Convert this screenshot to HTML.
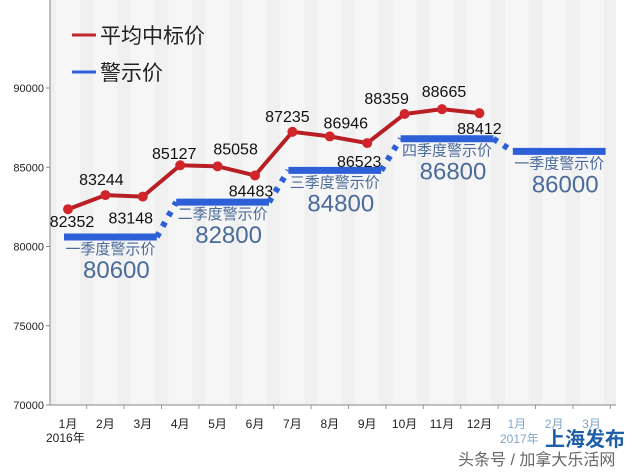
<!DOCTYPE html>
<html><head><meta charset="utf-8"><style>
body{margin:0;background:#fff;}
svg{display:block;font-family:"Liberation Sans","Noto Sans CJK SC",sans-serif;}
</style></head><body>
<svg id="c" width="640" height="472" viewBox="0 0 640 472">
<rect x="0" y="0" width="640" height="472" fill="#fff"/>
<rect x="50" y="0" width="566" height="405" fill="#f0f0f0"/>
<g id="stripes"></g>
<g id="axes"></g>
<g id="series"></g>
<g>
<line x1="72" y1="35" x2="96" y2="35" stroke="#c0272d" stroke-width="3"/>
<text x="100" y="43" font-size="21" fill="#222">平均中标价</text>
<line x1="72" y1="72" x2="96" y2="72" stroke="#2d5fd6" stroke-width="3"/>
<text x="100" y="80" font-size="21" fill="#222">警示价</text>
</g>
<text x="46" y="442" font-size="12" fill="#222">2016年</text>
<text x="500" y="443" font-size="12" fill="#7fa6c8">2017年</text>
<text x="545" y="446" font-size="20" font-weight="bold" fill="#1f5fa8">上海发布</text>
<text x="458" y="465" font-size="16" fill="#666">头条号 / 加拿大乐活网</text>
</svg>
<script>
const months=["1月","2月","3月","4月","5月","6月","7月","8月","9月","10月","11月","12月","1月","2月","3月"];
const avgPrices=[82352,83244,83148,85127,85058,84483,87235,86946,86523,88359,88665,88412];
const warnValues=[80600,82800,84800,86800,86000];
const warnLabels=["一季度警示价","二季度警示价","三季度警示价","四季度警示价","一季度警示价"];
const yTicks=[70000,75000,80000,85000,90000];
const labelDx=[4,-4,-12,-6,18,-4,-5,16,-8,-18,2,0];
const labelDy=[18,-10,27,-6,-12,21,-10,-8,24,-10,-12,21];
const NS="http://www.w3.org/2000/svg";
const X=i=>68+i*37.4;
const Y=v=>405-(v-70000)*0.01585;
function mk(p,t,a,txt){const e=document.createElementNS(NS,t);for(const k in a)e.setAttribute(k,a[k]);if(txt!==undefined)e.textContent=txt;p.appendChild(e);return e;}
const st=document.getElementById('stripes'),ax=document.getElementById('axes'),se=document.getElementById('series');
months.forEach((m,i)=>{
 const r=mk(st,'rect',{x:X(i)-12,y:0,width:24,height:405,fill:'#f6f6f6'});
 
 
 const t=mk(ax,'text',{x:X(i),y:428,'font-size':12,'text-anchor':'middle',fill:i>=12?'#7fa6c8':'#222'},m);
 
 
 const tk=mk(ax,'line',{x1:X(i)+18.7,y1:405,x2:X(i)+18.7,y2:409,stroke:'#999'});
 
 
});
const yl=mk(ax,'line',{x1:50,y1:0,x2:50,y2:405,stroke:'#888'});


const xl=mk(ax,'line',{x1:50,y1:405,x2:616,y2:405,stroke:'#888'});


yTicks.forEach(v=>{
 const t=mk(ax,'text',{x:44,y:Y(v)+4,'font-size':11,'text-anchor':'end',fill:'#222'},v);
 
 
 const l=mk(ax,'line',{x1:46,y1:Y(v),x2:50,y2:Y(v),stroke:'#888'});
 
 
});
warnValues.forEach((v,q)=>{
 const x1=X(q*3)-4,x2=X(q*3+2)+14;
 const s=mk(se,'line',{x1:x1,y1:Y(v),x2:x2,y2:Y(v),stroke:'#2d5fd6','stroke-width':7});
 
 
 if(q<warnValues.length-1){
  const d=mk(se,'line',{x1:x2,y1:Y(v),x2:X(q*3+3)-4,y2:Y(warnValues[q+1]),stroke:'#2d5fd6','stroke-width':6,'stroke-dasharray':'5 7'});
  
  
 }
 const cx=(x1+x2)/2;
 const lt=mk(se,'text',{x:cx,y:Y(v)+17,'font-size':15,'text-anchor':'middle',fill:'#4b6b9a'},warnLabels[q]);
 
 
 const vt=mk(se,'text',{x:cx+6,y:Y(v)+41,'font-size':24,'text-anchor':'middle',fill:'#4b6b9a'},v);
 
 
});
const pts=avgPrices.map((v,i)=>X(i)+','+Y(v)).join(' ');
const pl=mk(se,'polyline',{points:pts,fill:'none',stroke:'#b81f24','stroke-width':4});


avgPrices.forEach((v,i)=>{
 const c=mk(se,'circle',{cx:X(i),cy:Y(v),r:5,fill:'#d0262b'});
 
 
 const t=mk(se,'text',{x:X(i)+labelDx[i],y:Y(v)+labelDy[i],'font-size':16,'text-anchor':'middle',fill:'#111'},v);
 
 
});
</script>
</body></html>
